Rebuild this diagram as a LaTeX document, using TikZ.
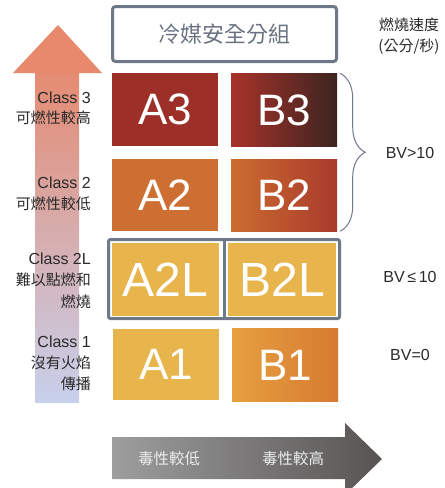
\documentclass[tikz,border=0pt]{standalone}
\usepackage{fontspec}
\setmainfont{Liberation Sans}
\newfontfamily\cjk{Noto Sans CJK TC}
\usetikzlibrary{decorations.pathreplacing,shadings}
\definecolor{frame}{HTML}{6E7888}
\definecolor{titletext}{HTML}{6A7282}
\definecolor{darktext}{HTML}{2A2A2A}
\definecolor{cA3}{HTML}{9D2F29}
\definecolor{cB3l}{HTML}{A8322A}
\definecolor{cB3r}{HTML}{3C2420}
\definecolor{cA2}{HTML}{CD6F33}
\definecolor{cB2l}{HTML}{CC6C30}
\definecolor{cB2r}{HTML}{A83A2B}
\definecolor{cY}{HTML}{E8B44C}
\definecolor{cB1l}{HTML}{E6A040}
\definecolor{cB1r}{HTML}{D77A30}
\definecolor{arrhead}{HTML}{E8886C}
\definecolor{arrtop}{HTML}{E58B72}
\definecolor{arrmid}{HTML}{DCBAB8}
\definecolor{arrbot}{HTML}{C8D0EC}
\definecolor{gl}{HTML}{9E9E9E}
\definecolor{gr}{HTML}{575353}
\definecolor{lighttext}{HTML}{ECECEC}
\tikzset{
  cell/.style={minimum width=106pt, minimum height=73pt, inner sep=0pt, text=white, font=\fontsize{44}{44}\selectfont},
  bigcell/.style={cell, font=\fontsize{48}{48}\selectfont},
  lbl/.style={anchor=east, inner sep=0pt, text=darktext, font=\fontsize{16}{16}\selectfont},
  cjklbl/.style={anchor=east, inner sep=0pt, text=darktext, font=\cjk\fontsize{15}{15}\selectfont},
  rlbl/.style={inner sep=0pt, text=darktext, font=\fontsize{16}{16}\selectfont},
  rcjk/.style={inner sep=0pt, text=darktext, font=\cjk\fontsize{15}{15}\selectfont},
  axistext/.style={inner sep=0pt, text=lighttext, font=\cjk\fontsize{15.5}{15.5}\selectfont}
}
\begin{document}
\begin{tikzpicture}[x=1pt,y=-1pt]
\useasboundingbox (0,0) rectangle (445,488);
\clip (0,0) rectangle (445,488);
% left vertical arrow
\shade[top color=arrtop, middle color=arrmid, bottom color=arrbot] (35,72) rectangle (79,402);
\fill[arrhead] (13,73) -- (58,25) -- (102,73) -- cycle;
% title box
\node[draw=frame, line width=3pt, rounded corners=3pt, minimum width=224pt, minimum height=55pt, inner sep=0pt, text=titletext, font=\cjk\fontsize{22}{22}\selectfont] (title) at (224.5,34) {冷媒安全分組};
% cells
\node[cell, fill=cA3] (A3) at (165,109.5) {A3};
\node[cell, left color=cB3l, right color=cB3r] (B3) at (284,110) {B3};
\node[cell, minimum height=72pt, fill=cA2] (A2) at (165,195) {A2};
\node[cell, minimum height=72pt, left color=cB2l, right color=cB2r] (B2) at (284,195) {B2};
\node[draw=frame, line width=3pt, rounded corners=2pt, minimum width=231pt, minimum height=79pt, inner sep=0pt] (grp) at (224,279) {};
\draw[frame, line width=3pt] (grp.north) -- (grp.south);
\node[bigcell, minimum width=107pt, fill=cY] (A2L) at (165.5,279.5) {A2L};
\node[bigcell, minimum width=108pt, fill=cY] (B2L) at (282,279.5) {B2L};
\node[cell, minimum height=71pt, fill=cY] (A1) at (166,364.5) {A1};
\node[cell, left color=cB1l, right color=cB1r] (B1) at (285,365) {B1};
% brace
\draw[frame, line width=1pt, decorate, decoration={brace, amplitude=25pt}] ([xshift=3pt]B3.north east) -- ([xshift=3pt]B2.south east);
% left labels
\node[lbl] (c3) at (91,98) {Class 3};
\node[cjklbl] (c3t) at (91,118) {可燃性較高};
\node[lbl] (c2) at (91,183) {Class 2};
\node[cjklbl] (c2t) at (91,204) {可燃性較低};
\node[lbl] (c2l) at (91,259) {Class 2L};
\node[cjklbl] (c2lt) at (91,280) {難以點燃和};
\node[cjklbl] (c2lt2) at (91,302) {燃燒};
\node[lbl] (c1) at (91,342) {Class 1};
\node[cjklbl] (c1t) at (91,363) {沒有火焰};
\node[cjklbl] (c1t2) at (91,384) {傳播};
% right labels
\node[rcjk] (bvh) at (409,25) {燃燒速度};
\node[rcjk] (bvu) at (409,47) {(公分/秒)};
\node[rlbl] (bv1) at (410,153) {BV>10};
\node[rlbl] (bv2) at (410,277) {BV\,≤\,10};
\node[rlbl] (bv3) at (410,355) {BV=0};
% bottom arrow
\shade[left color=gl, right color=gr] (112,437) -- (345,437) -- (345,423) -- (382,459) -- (345,495) -- (345,479) -- (112,479) -- cycle;
\node[axistext] (tlow) at (169,459) {毒性較低};
\node[axistext] (thigh) at (293,459) {毒性較高};
\end{tikzpicture}
\end{document}
